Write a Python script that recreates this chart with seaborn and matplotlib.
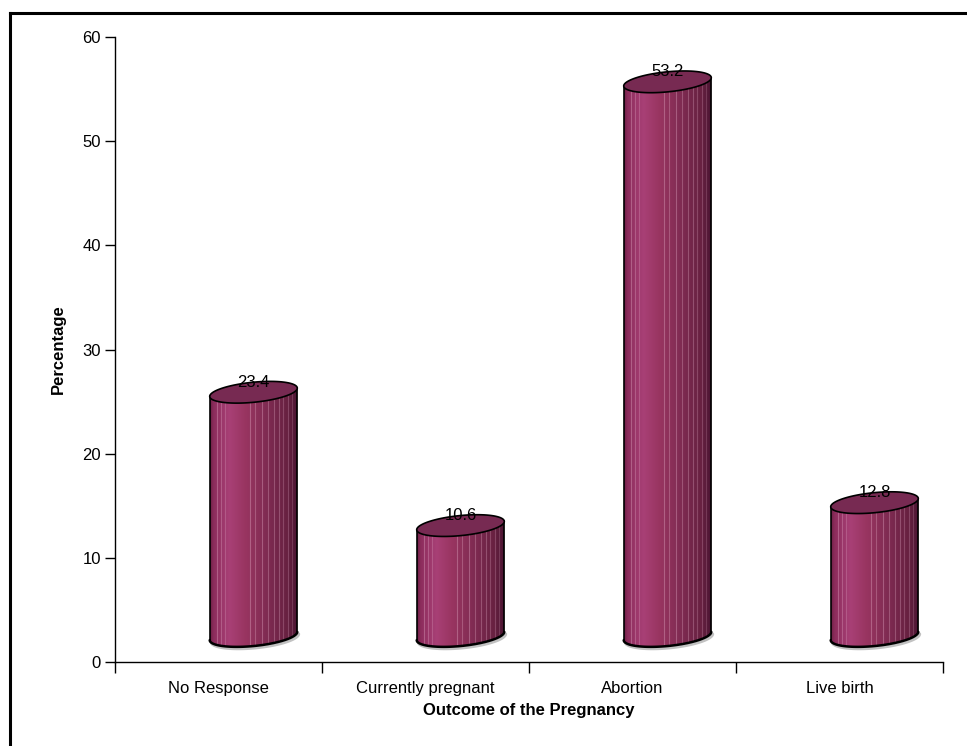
import numpy as np
import pandas as pd
import matplotlib
matplotlib.use("Agg")
import matplotlib.pyplot as plt
import seaborn as sns
from matplotlib.patches import Polygon
from matplotlib.lines import Line2D
from matplotlib.colors import LinearSegmentedColormap

# Survey results: outcome of the pregnancy (percent of respondents)
outcomes = ["No Response", "Currently pregnant", "Abortion", "Live birth"]
percentages = [23.4, 10.6, 53.2, 12.8]
y_ticks = [0, 10, 20, 30, 40, 50, 60]

sns.set_theme(style="white", rc={
    "text.color": "black", "axes.labelcolor": "black",
    "xtick.color": "black", "ytick.color": "black",
    "axes.edgecolor": "black",
})
plt.rcParams["font.family"] = ["Liberation Sans", "DejaVu Sans"]

W, H = 967, 746
fig = plt.figure(figsize=(W / 100, H / 100), dpi=100)
ax = fig.add_axes([115 / W, 1 - 662 / H, (943 - 115) / W, (662 - 37) / H])

df = pd.DataFrame({"Outcome": outcomes, "Percentage": percentages})
sns.barplot(data=df, x="Outcome", y="Percentage", ax=ax, width=0.425,
            color="#8b2f5f", saturation=1)
ax.set_xlim(-0.5, 3.5)
ax.set_ylim(0, 60)

# pseudo-3D look: depth shift (pixels), ellipse minor radius and tilt
DX, DY = 35, 26
B = 10.0
PHI = np.deg2rad(5.7)

body_cmap = LinearSegmentedColormap.from_list("cyl", [
    (0.00, "#6e2046"), (0.04, "#8c2c5c"), (0.22, "#a84076"),
    (0.40, "#993561"), (0.65, "#7f2b52"), (0.88, "#682141"),
    (1.00, "#4a1432"),
])

inv = ax.transData.inverted()


def ellipse(cx, cy, a, t):
    x = cx + a * np.cos(t) * np.cos(PHI) - B * np.sin(t) * np.sin(PHI)
    y = cy + a * np.cos(t) * np.sin(PHI) + B * np.sin(t) * np.cos(PHI)
    return np.column_stack([x, y])


def to_data(pts):
    return inv.transform(pts)


bars = list(ax.patches)
for bar in bars:
    bar.set_visible(False)
    xc = bar.get_x() + bar.get_width() / 2
    val = bar.get_height()
    x_left = ax.transData.transform((bar.get_x(), 0))[0]
    x_right = ax.transData.transform((bar.get_x() + bar.get_width(), 0))[0]
    a = (x_right - x_left) / 2
    cbx, cby = ax.transData.transform((xc, 0)) + np.array([DX, DY])
    ctx, cty = ax.transData.transform((xc, val)) + np.array([DX, DY])

    t0 = np.arctan(-(B * np.tan(PHI)) / a)
    lower = np.linspace(t0 + np.pi, t0 + 2 * np.pi, 120)
    upper = np.linspace(t0, t0 + np.pi, 120)
    full = np.linspace(0, 2 * np.pi, 240)

    bottom_arc = ellipse(cbx, cby, a, lower)
    top_arc = ellipse(ctx, cty, a, upper)
    body = np.vstack([bottom_arc, top_arc])

    # soft shadow under the base
    shadow = Line2D(*to_data(bottom_arc + np.array([1.5, -2.0])).T,
                    color="#9a9a9a", lw=2.0, alpha=0.6, zorder=2)
    ax.add_line(shadow)

    body_patch = Polygon(to_data(body), closed=True, facecolor="none",
                         edgecolor="none", zorder=3)
    ax.add_patch(body_patch)

    bx0, by0 = to_data([[body[:, 0].min(), body[:, 1].min()]])[0]
    bx1, by1 = to_data([[body[:, 0].max(), body[:, 1].max()]])[0]
    grad = np.linspace(0, 1, 256)[None, :]
    im = ax.imshow(grad, cmap=body_cmap, aspect="auto",
                   extent=(bx0, bx1, by0, by1), origin="lower",
                   interpolation="bilinear", zorder=3)
    im.set_clip_path(body_patch)

    # thin highlight stripes on the body
    for f, al in [(0.08, 0.35), (0.13, 0.3), (0.18, 0.25), (0.46, 0.35),
                  (0.52, 0.3), (0.60, 0.35), (0.67, 0.3), (0.73, 0.3),
                  (0.79, 0.3), (0.84, 0.25), (0.89, 0.25), (0.94, 0.2)]:
        xs = x_left + DX + f * 2 * a
        seg = to_data([[xs, cby - 2 * B], [xs, cty + 2 * B]])
        ln = Line2D(seg[:, 0], seg[:, 1], color="#e9b6cf", lw=0.8,
                    alpha=al, zorder=4)
        ax.add_line(ln)
        ln.set_clip_path(body_patch)

    # outline of the body
    left_side = to_data([bottom_arc[0], top_arc[-1]])
    right_side = to_data([bottom_arc[-1], top_arc[0]])
    ax.add_line(Line2D(left_side[:, 0], left_side[:, 1], color="black",
                       lw=1.2, zorder=5))
    ax.add_line(Line2D(right_side[:, 0], right_side[:, 1], color="black",
                       lw=1.2, zorder=5))
    ax.add_line(Line2D(*to_data(bottom_arc).T, color="black", lw=1.8,
                       zorder=5))

    # top cap
    cap = Polygon(to_data(ellipse(ctx, cty, a, full)), closed=True,
                  facecolor="#772a52", edgecolor="black", lw=1.2, zorder=6)
    ax.add_patch(cap)

    ax.annotate(f"{val:.1f}", xy=(xc, val), xytext=(DX, DY + 10),
                textcoords="offset pixels", ha="center", va="center",
                fontsize=12, color="black", zorder=7)

ax.set_xlim(-0.5, 3.5)
ax.set_ylim(0, 60)

sns.despine(ax=ax)
for side in ("left", "bottom"):
    ax.spines[side].set_color("black")
    ax.spines[side].set_linewidth(1.0)

ax.set_yticks(y_ticks)
ax.set_yticklabels([str(v) for v in y_ticks], fontsize=12)
ax.tick_params(axis="y", which="major", left=True, length=7.2, width=1,
               pad=3, direction="out")

ax.set_xticks(range(len(outcomes)))
ax.set_xticklabels(outcomes, fontsize=12)
ax.set_xticks([-0.5, 0.5, 1.5, 2.5, 3.5], minor=True)
ax.tick_params(axis="x", which="major", bottom=True, length=0, pad=14)
ax.tick_params(axis="x", which="minor", bottom=True, length=8, width=1,
               direction="out")

ax.set_xlabel("Outcome of the Pregnancy", fontsize=12, fontweight="bold")
ax.set_ylabel("Percentage", fontsize=12, fontweight="bold")
ax.xaxis.set_label_coords(0.5, -0.0656)
ax.yaxis.set_label_coords(-0.059, 0.5)
ax.grid(False)

# frame lines along the top and left edge of the figure
fig.add_artist(Line2D([9.5 / W, 1], [1 - 12.5 / H] * 2,
                      transform=fig.transFigure, color="black", lw=2.2,
                      solid_capstyle="projecting"))
fig.add_artist(Line2D([9.5 / W] * 2, [0, 1 - 12.5 / H],
                      transform=fig.transFigure, color="black", lw=2.2,
                      solid_capstyle="projecting"))

fig.savefig("out.png", dpi=100, facecolor="white")
